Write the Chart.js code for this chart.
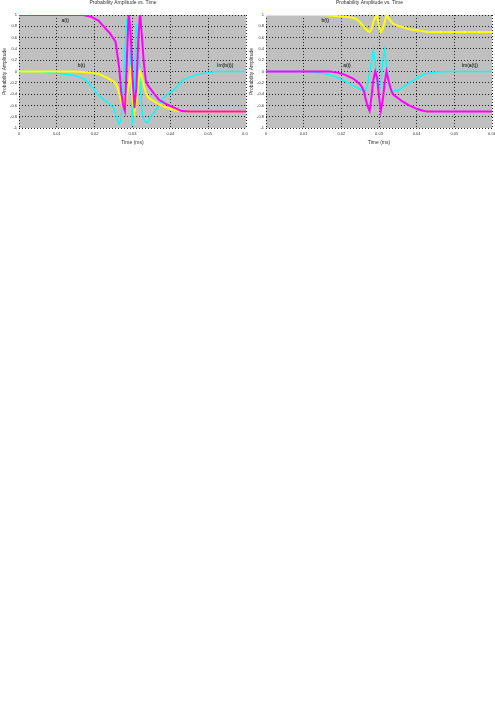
<!DOCTYPE html>
<html>
<head>
<meta charset="utf-8">
<script src="https://cdn.jsdelivr.net/npm/chart.js@4.4.1/dist/chart.umd.min.js"></script>
<style>
body { margin: 0; background: #fff; }
canvas { position: absolute; top: 0; }
#sinistra { left: 0; }
#destra { left: 247px; }
</style>
</head>
<body>
<canvas id="sinistra" width="248" height="148"></canvas>
<canvas id="destra" width="248" height="148"></canvas>
<script>
// tempi (ms) comuni ai due grafici
const tempi = [0, 0.005, 0.01, 0.014, 0.017, 0.019, 0.021, 0.023, 0.024, 0.025,
  0.0255, 0.026, 0.0265, 0.027, 0.0275, 0.028, 0.0285, 0.029, 0.0295, 0.03,
  0.0305, 0.031, 0.0315, 0.032, 0.0325, 0.033, 0.0335, 0.034, 0.035, 0.036,
  0.037, 0.038, 0.039, 0.04, 0.041, 0.042, 0.043, 0.045, 0.048, 0.052, 0.056, 0.06];

// grafico di sinistra
const aReSx = [1, 1, 1, 1, 1, 0.97, 0.9, 0.75, 0.68, 0.58,
  0.53, 0.3, 0.05, -0.35, -0.6, -0.7, 0.2, 1.05, 0.7, -0.1,
  -0.65, -0.3, 0.5, 1.05, 0.6, 0.15, -0.15, -0.24, -0.33, -0.42,
  -0.5, -0.54, -0.58, -0.61, -0.64, -0.67, -0.7, -0.71, -0.71, -0.71, -0.71, -0.71];
const bReSx = [0, 0, 0, 0, -0.01, -0.02, -0.04, -0.1, -0.14, -0.18,
  -0.21, -0.28, -0.4, -0.53, -0.64, -0.67, -0.45, -0.25, -0.02, -0.5,
  -0.72, -0.55, -0.25, 0, -0.1, -0.25, -0.38, -0.45, -0.5, -0.54,
  -0.58, -0.61, -0.64, -0.66, -0.68, -0.69, -0.7, -0.71, -0.71, -0.71, -0.71, -0.71];
const bImSx = [0, 0, -0.03, -0.06, -0.12, -0.25, -0.42, -0.53, -0.58, -0.64,
  -0.75, -0.85, -0.93, -0.85, -0.3, 0.4, 0.92, 0.95, 0.1, -0.95,
  -0.2, 0.85, 0.6, -0.2, -0.7, -0.85, -0.9, -0.9, -0.78, -0.7,
  -0.58, -0.48, -0.42, -0.37, -0.32, -0.25, -0.17, -0.1, -0.04, 0, 0, 0];

// grafico di destra
const bReDx = [1, 1, 1, 1, 0.99, 0.98, 0.97, 0.95, 0.93, 0.87,
  0.83, 0.79, 0.75, 0.72, 0.7, 0.75, 0.88, 0.96, 0.99, 0.8,
  0.7, 0.75, 0.88, 0.99, 0.95, 0.9, 0.86, 0.84, 0.81, 0.79,
  0.77, 0.75, 0.74, 0.73, 0.72, 0.71, 0.7, 0.7, 0.7, 0.7, 0.7, 0.7];
const aReDx = [0, 0, 0, 0, 0, -0.02, -0.06, -0.12, -0.17, -0.23,
  -0.28, -0.35, -0.5, -0.62, -0.7, -0.45, -0.15, 0, -0.1, -0.45,
  -0.69, -0.5, -0.2, 0, -0.15, -0.28, -0.38, -0.42, -0.47, -0.52,
  -0.56, -0.6, -0.63, -0.66, -0.68, -0.7, -0.71, -0.71, -0.71, -0.71, -0.71, -0.71];
const aImDx = [0, 0, 0, -0.02, -0.06, -0.11, -0.17, -0.25, -0.28, -0.31,
  -0.33, -0.34, -0.33, -0.22, -0.02, 0.18, 0.38, 0.15, -0.2, -0.37,
  -0.2, 0.2, 0.38, 0.12, -0.15, -0.3, -0.35, -0.35, -0.34, -0.3,
  -0.25, -0.2, -0.16, -0.12, -0.08, -0.05, -0.03, -0.01, 0, 0, 0, 0];

const titolo = "Probability Amplitude vs. Time";

// etichette dentro il grafico: testo, tempo, valore
const noteSx = [["a(t)", 0.0122, 0.9], ["b(t)", 0.0165, 0.11], ["Im(b(t))", 0.0545, 0.1]];
const noteDx = [["b(t)", 0.0157, 0.9], ["a(t)", 0.0215, 0.11], ["Im(a(t))", 0.0541, 0.1]];

Chart.defaults.font.family = "'Liberation Sans', Arial, sans-serif";
Chart.defaults.color = "#000";

const sfondo = {
  id: "sfondo",
  beforeDraw(chart) {
    const a = chart.chartArea;
    chart.ctx.save();
    chart.ctx.fillStyle = "#c0c0c0";
    chart.ctx.fillRect(a.left, a.top, a.right - a.left, a.bottom - a.top);
    chart.ctx.restore();
  }
};

const note = {
  id: "note",
  afterDatasetsDraw(chart, args, opts) {
    const ctx = chart.ctx;
    ctx.save();
    ctx.font = "5px 'Liberation Sans', Arial, sans-serif";
    ctx.fillStyle = "#000";
    ctx.textAlign = "center";
    ctx.textBaseline = "middle";
    for (let n of opts.testi) {
      ctx.fillText(n[0], chart.scales.x.getPixelForValue(n[1]), chart.scales.y.getPixelForValue(n[2]));
    }
    ctx.restore();
  }
};

function serie(vet) {
  return vet.map((v, i) => ({ x: tempi[i], y: v }));
}

function disegna(id, dati, testi, destra) {
  new Chart(document.getElementById(id), {
    type: "line",
    data: {
      datasets: dati.map(d => ({
        data: serie(d[0]),
        borderColor: d[1],
        borderWidth: d[2],
        pointRadius: 0,
        tension: 0
      }))
    },
    options: {
      responsive: false,
      devicePixelRatio: 1,
      animation: false,
      layout: { padding: { left: 0, right: destra, top: 0, bottom: 0 } },
      plugins: {
        legend: { display: false },
        tooltip: { enabled: false },
        title: {
          display: true,
          text: titolo,
          font: { size: 5, weight: "normal" },
          color: "#333",
          padding: { top: 0, bottom: 9 }
        },
        note: { testi: testi }
      },
      scales: {
        x: {
          type: "linear",
          min: 0,
          max: 0.06,
          grid: { color: "#222", drawTicks: false },
          border: { display: false, dash: [1, 2] },
          ticks: {
            stepSize: 0.01,
            padding: 3,
            font: { size: 4 },
            color: "#333",
            maxRotation: 0,
            callback: v => String(Math.round(v * 100) / 100)
          },
          title: { display: true, text: "Time (ms)", font: { size: 5 }, color: "#333", padding: { top: 0, bottom: 2.5 } },
          afterFit: s => { s.height = 20; s.paddingLeft = 0; s.paddingRight = 0; }
        },
        y: {
          min: -1,
          max: 1,
          grid: { color: "#222", drawTicks: false },
          border: { display: false, dash: [1, 2] },
          ticks: {
            stepSize: 0.2,
            padding: 2,
            font: { size: 4 },
            color: "#333",
            callback: v => String(Math.round(v * 10) / 10)
          },
          title: { display: true, text: "Probability Amplitude", font: { size: 5 }, color: "#333", padding: { top: 2, bottom: 0 } },
          afterFit: s => { s.width = 19; }
        }
      }
    },
    plugins: [sfondo, note]
  });
}

disegna("sinistra", [[aReSx, "#ff00ff", 2], [bReSx, "#ffff00", 2], [bImSx, "#00ffff", 1.5]], noteSx, 2);
disegna("destra", [[bReDx, "#ffff00", 2], [aReDx, "#ff00ff", 2], [aImDx, "#00ffff", 1.5]], noteDx, 3);
</script>
</body>
</html>
